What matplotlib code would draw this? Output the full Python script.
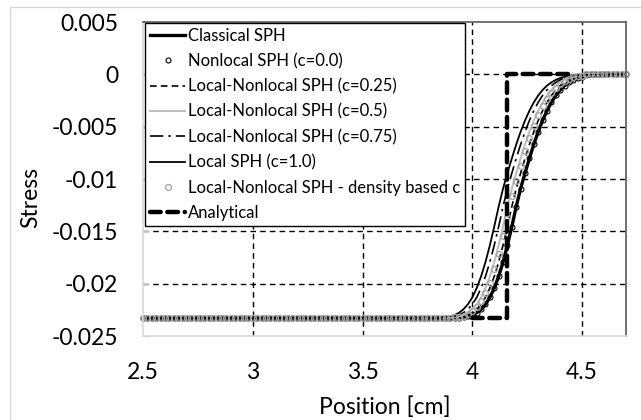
import numpy as np
import matplotlib
matplotlib.use("Agg")
import matplotlib.pyplot as plt
from matplotlib.lines import Line2D

plt.rcParams["font.family"] = ["Lato", "DejaVu Sans"]

# particle positions [cm], spacing 0.02
particle_x = np.round(np.arange(2.50, 4.701, 0.02), 2)
# the front (transition zone), 3.86 .. 4.50
front_x = np.round(np.arange(3.86, 4.501, 0.02), 2)

low_level = -0.0233
n_low = 68     # particles left of the front
n_high = 10    # particles right of the front

classical_front = [-0.02330, -0.02330, -0.02329, -0.02327, -0.02325, -0.02320, -0.02312,
                   -0.02299, -0.02277, -0.02244, -0.02197, -0.02131, -0.02042, -0.01930,
                   -0.01793, -0.01632, -0.01454, -0.01263, -0.01091, -0.00944, -0.00803,
                   -0.00670, -0.00549, -0.00441, -0.00348, -0.00268, -0.00202, -0.00150,
                   -0.00108, -0.00077, -0.00053, -0.00036, -0.00024]
nonlocal_front = classical_front
c025_front = [-0.02330, -0.02329, -0.02327, -0.02325, -0.02320, -0.02312, -0.02299,
              -0.02277, -0.02244, -0.02197, -0.02131, -0.02042, -0.01930, -0.01793,
              -0.01632, -0.01454, -0.01263, -0.01091, -0.00944, -0.00803, -0.00670,
              -0.00549, -0.00441, -0.00348, -0.00268, -0.00202, -0.00150, -0.00108,
              -0.00077, -0.00053, -0.00036, -0.00024, -0.00015]
c050_front = [-0.02329, -0.02327, -0.02325, -0.02320, -0.02312, -0.02299, -0.02277,
              -0.02244, -0.02197, -0.02131, -0.02042, -0.01930, -0.01793, -0.01632,
              -0.01454, -0.01263, -0.01091, -0.00944, -0.00803, -0.00670, -0.00549,
              -0.00441, -0.00348, -0.00268, -0.00202, -0.00150, -0.00108, -0.00077,
              -0.00053, -0.00036, -0.00024, -0.00015, -0.00010]
c075_front = [-0.02327, -0.02325, -0.02320, -0.02312, -0.02299, -0.02277, -0.02244,
              -0.02197, -0.02131, -0.02042, -0.01930, -0.01793, -0.01632, -0.01454,
              -0.01263, -0.01091, -0.00944, -0.00803, -0.00670, -0.00549, -0.00441,
              -0.00348, -0.00268, -0.00202, -0.00150, -0.00108, -0.00077, -0.00053,
              -0.00036, -0.00024, -0.00015, -0.00010, -0.00006]
local_front = [-0.02325, -0.02320, -0.02312, -0.02299, -0.02277, -0.02244, -0.02197,
               -0.02131, -0.02042, -0.01930, -0.01793, -0.01632, -0.01454, -0.01263,
               -0.01091, -0.00944, -0.00803, -0.00670, -0.00549, -0.00441, -0.00348,
               -0.00268, -0.00202, -0.00150, -0.00108, -0.00077, -0.00053, -0.00036,
               -0.00024, -0.00015, -0.00010, -0.00006, -0.00003]
density_front = [-0.02329, -0.02328, -0.02326, -0.02323, -0.02316, -0.02306, -0.02289,
                 -0.02262, -0.02223, -0.02166, -0.02089, -0.01989, -0.01864, -0.01716,
                 -0.01545, -0.01359, -0.01165, -0.01017, -0.00873, -0.00735, -0.00608,
                 -0.00494, -0.00393, -0.00306, -0.00234, -0.00175, -0.00128, -0.00091,
                 -0.00064, -0.00044, -0.00029, -0.00019, -0.00012]

analytical_x = [4.00, 4.16, 4.16, 4.45]
analytical_y = [-0.0233, -0.0233, 0.0, 0.0]

x_ticks = [2.5, 3, 3.5, 4, 4.5]
x_tick_labels = ["2.5", "3", "3.5", "4", "4.5"]
y_ticks = [0.005, 0, -0.005, -0.01, -0.015, -0.02, -0.025]
y_tick_labels = ["0.005", "0", "-0.005", "-0.01", "-0.015", "-0.02", "-0.025"]


def line_xy(front):
    xs = [2.5] + list(front_x) + [4.7]
    ys = [low_level] + list(front) + [0.0]
    return xs, ys


def particle_y(front):
    return [low_level] * n_low + list(front) + [0.0] * n_high


fig = plt.figure(figsize=(6.41, 4.20), dpi=100)
ax = fig.add_axes([143 / 641, 1 - 336 / 420, 483 / 641, 314 / 420])

# light chart border (Excel style)
fig.add_artist(Line2D([10 / 641, 10 / 641], [0, 1 - 7 / 420], color="#d9d9d9", lw=1))
fig.add_artist(Line2D([10 / 641, 1], [1 - 7 / 420, 1 - 7 / 420], color="#d9d9d9", lw=1))

ax.plot(*line_xy(classical_front), color="black", lw=2.4, label="Classical SPH")
ax.plot(particle_x, particle_y(nonlocal_front), ls="none", marker="o", ms=3.6,
        mfc="none", mec="black", mew=0.8, clip_on=False, label="Nonlocal SPH (c=0.0)")
ax.plot(*line_xy(c025_front), color="black", lw=1.2, ls=(0, (4, 2.5)),
        label="Local-Nonlocal SPH (c=0.25)")
ax.plot(*line_xy(c050_front), color="#bfbfbf", lw=1.5, label="Local-Nonlocal SPH (c=0.5)")
ax.plot(*line_xy(c075_front), color="black", lw=1.2, ls=(0, (8, 3, 1.5, 3)),
        label="Local-Nonlocal SPH (c=0.75)")
ax.plot(*line_xy(local_front), color="black", lw=1.3, label="Local SPH (c=1.0)")
ax.plot(particle_x, particle_y(density_front), ls="none", marker="o", ms=4.2,
        mfc="none", mec="#a6a6a6", mew=1.0, clip_on=False,
        label="Local-Nonlocal SPH - density based c")
ax.plot(analytical_x, analytical_y, color="black", lw=3.2, ls=(0, (2.4, 1.5)),
        dash_capstyle="round", label="Analytical")

ax.set_xlim(2.5, 4.7)
ax.set_ylim(-0.025, 0.005)
ax.set_xticks(x_ticks)
ax.set_xticklabels(x_tick_labels)
ax.set_yticks(y_ticks)
ax.set_yticklabels(y_tick_labels)
ax.tick_params(axis="x", length=0, pad=19, labelsize=16.5)
ax.tick_params(axis="y", direction="in", length=4, color="#bfbfbf", pad=18, labelsize=16.5)

for yv in y_ticks[1:-1]:
    ax.axhline(yv, color="black", lw=1, ls=(0, (4, 3)), zorder=0.5)
for xv in x_ticks[1:]:
    ax.axvline(xv, color="black", lw=1, ls=(0, (4, 3)), zorder=0.5)

ax.spines["left"].set_color("#d9d9d9")
ax.spines["bottom"].set_color("#d9d9d9")
ax.spines["top"].set_color("#595959")
ax.spines["right"].set_color("#595959")
for s in ax.spines.values():
    s.set_linewidth(1.2)

ax.set_xlabel("Position [cm]", fontsize=16.5)
ax.set_ylabel("Stress", fontsize=16.5)
ax.xaxis.set_label_coords(0.5, -(396 - 336) / 314)
ax.yaxis.set_label_coords((41 - 143) / 483, 1 - (197 - 22) / 314)

leg = ax.legend(loc="upper left", bbox_to_anchor=(2 / 483, 1 - 1 / 314), borderaxespad=0,
                fontsize=12, frameon=True, fancybox=False, framealpha=1, edgecolor="black",
                handlelength=2.1, handletextpad=0.15, labelspacing=0.55, numpoints=1,
                borderpad=0.3)
leg.get_frame().set_linewidth(1.0)

fig.savefig("out.png", dpi=100)
